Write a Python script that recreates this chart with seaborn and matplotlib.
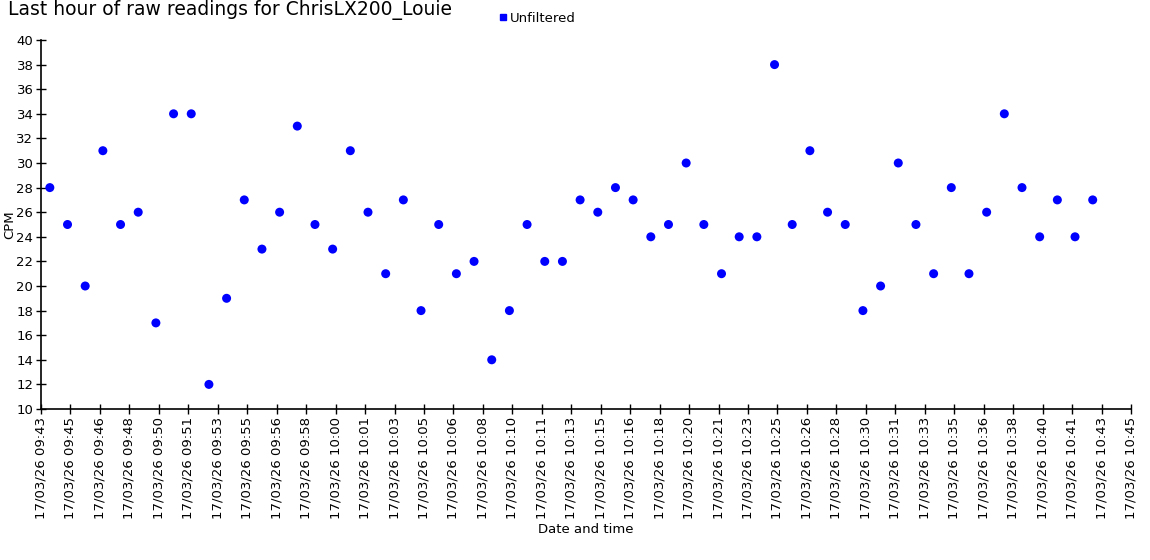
import numpy as np
import pandas as pd
import matplotlib
matplotlib.use("Agg")
import matplotlib.pyplot as plt
import seaborn as sns

# ---- data ----
first_reading = "2026-03-17 09:44:00"
n_readings = 60
cpm = [28, 25, 20, 31, 25, 26, 17, 34, 34, 12,
       19, 27, 23, 26, 33, 25, 23, 31, 26, 21,
       27, 18, 25, 21, 22, 14, 18, 25, 22, 22,
       27, 26, 28, 27, 24, 25, 30, 25, 21, 24,
       24, 38, 25, 31, 26, 25, 18, 20, 30, 25,
       21, 28, 21, 26, 34, 28, 24, 27, 24, 27]
axis_start = "2026-03-17 09:43:30"
axis_step_s = 100
n_ticks = 38
y_ticks = list(range(10, 42, 2))
series_name = "Unfiltered"
title = "Last hour of raw readings for ChrisLX200_Louie"

times = pd.date_range(first_reading, periods=n_readings, freq="1min")
df = pd.DataFrame({"Date and time": times, "CPM": cpm, "series": series_name})

sns.set_theme(style="white", rc={"text.color": "black", "axes.labelcolor": "black",
                                 "xtick.color": "black", "ytick.color": "black"})
plt.rcParams["font.family"] = ["DejaVu Sans"]

fig = plt.figure(figsize=(11.5, 5.6), dpi=100)
ax = fig.add_axes([41 / 1150, 1 - 409 / 560, (1131 - 41) / 1150, (409 - 40) / 560])

sns.scatterplot(data=df, x="Date and time", y="CPM", ax=ax, color="#0000ff",
                s=42, edgecolor="none", legend=False)

tick_times = pd.date_range(axis_start, periods=n_ticks, freq=f"{axis_step_s}s")
ax.set_xlim(tick_times[0], tick_times[-1])
ax.set_xticks(tick_times)
ax.set_xticklabels([t.strftime("%d/%m/%y %H:%M") for t in tick_times],
                   rotation=90, fontsize=9.5)
ax.set_ylim(10, 40)
ax.set_yticks(y_ticks)
ax.tick_params(axis="y", labelsize=9.5)
ax.tick_params(direction="inout", length=7, width=1, color="black", labelcolor="black",
               pad=2, bottom=True, left=True)

for s in ["top", "right"]:
    ax.spines[s].set_visible(False)
for s in ["left", "bottom"]:
    ax.spines[s].set_color("black")
    ax.spines[s].set_linewidth(1.2)

ax.set_xlabel("Date and time", fontsize=9.5, labelpad=3, color="black")
ax.set_ylabel("CPM", fontsize=9.5, labelpad=0, color="black")

fig.text(8 / 1150, 1 - 10 / 560, title, fontsize=13.5, ha="left", va="center", color="black")

handle = plt.Line2D([], [], marker="s", color="#0000ff", linestyle="none", markersize=4.5)
fig.legend([handle], [series_name], loc="center left",
           bbox_to_anchor=(499 / 1150, 1 - 18 / 560), frameon=False,
           fontsize=9.5, handlelength=0.6, handletextpad=0.2, borderpad=0, borderaxespad=0,
           labelcolor="black")

fig.savefig("out.png", dpi=100)
